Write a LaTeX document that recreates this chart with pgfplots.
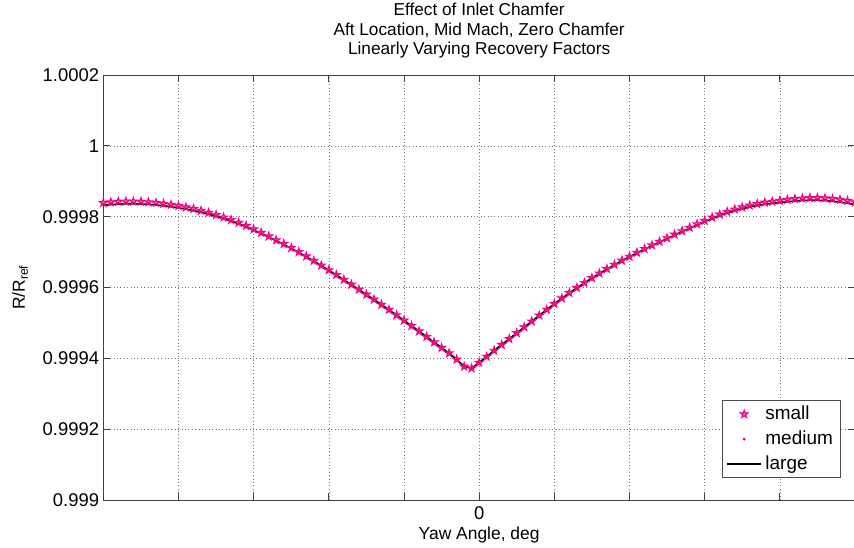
\documentclass[border=0pt]{standalone}
\usepackage{pgfplots}
\pgfplotsset{compat=1.18}
\usepackage{pgfplotstable}
\usepackage{fontspec}
\setmainfont{Liberation Sans}
\pgfdeclareplotmark{pentagram}{%
  \pgfpathmoveto{\pgfpointpolar{90}{\pgfplotmarksize}}%
  \pgfpathlineto{\pgfpointpolar{126}{0.382\pgfplotmarksize}}%
  \pgfpathlineto{\pgfpointpolar{162}{\pgfplotmarksize}}%
  \pgfpathlineto{\pgfpointpolar{198}{0.382\pgfplotmarksize}}%
  \pgfpathlineto{\pgfpointpolar{234}{\pgfplotmarksize}}%
  \pgfpathlineto{\pgfpointpolar{270}{0.382\pgfplotmarksize}}%
  \pgfpathlineto{\pgfpointpolar{306}{\pgfplotmarksize}}%
  \pgfpathlineto{\pgfpointpolar{342}{0.382\pgfplotmarksize}}%
  \pgfpathlineto{\pgfpointpolar{18}{\pgfplotmarksize}}%
  \pgfpathlineto{\pgfpointpolar{54}{0.382\pgfplotmarksize}}%
  \pgfpathclose
  \pgfusepathqfillstroke
}
\pgfplotstableread{
x small medium large
-10.0 0.9998390 0.9998355 0.9998320
-9.8 0.9998409 0.9998375 0.9998340
-9.6 0.9998423 0.9998389 0.9998355
-9.4 0.9998430 0.9998397 0.9998363
-9.2 0.9998431 0.9998398 0.9998365
-9.0 0.9998425 0.9998393 0.9998360
-8.8 0.9998411 0.9998380 0.9998348
-8.6 0.9998391 0.9998361 0.9998330
-8.4 0.9998367 0.9998338 0.9998308
-8.2 0.9998337 0.9998309 0.9998280
-8.0 0.9998305 0.9998278 0.9998250
-7.8 0.9998265 0.9998239 0.9998213
-7.6 0.9998219 0.9998195 0.9998170
-7.4 0.9998168 0.9998145 0.9998122
-7.2 0.9998113 0.9998092 0.9998070
-7.0 0.9998050 0.9998030 0.9998010
-6.8 0.9997982 0.9997964 0.9997945
-6.6 0.9997909 0.9997892 0.9997875
-6.4 0.9997831 0.9997816 0.9997800
-6.2 0.9997743 0.9997729 0.9997715
-6.0 0.9997645 0.9997633 0.9997620
-5.8 0.9997548 0.9997537 0.9997525
-5.6 0.9997446 0.9997436 0.9997425
-5.4 0.9997339 0.9997330 0.9997320
-5.2 0.9997232 0.9997224 0.9997215
-5.0 0.9997120 0.9997113 0.9997105
-4.8 0.9997004 0.9996997 0.9996990
-4.6 0.9996882 0.9996876 0.9996870
-4.4 0.9996756 0.9996750 0.9996745
-4.2 0.9996624 0.9996619 0.9996615
-4.0 0.9996493 0.9996489 0.9996485
-3.8 0.9996357 0.9996354 0.9996350
-3.6 0.9996221 0.9996218 0.9996215
-3.4 0.9996085 0.9996083 0.9996080
-3.2 0.9995944 0.9995942 0.9995940
-3.0 0.9995803 0.9995802 0.9995800
-2.8 0.9995663 0.9995661 0.9995660
-2.6 0.9995517 0.9995516 0.9995515
-2.4 0.9995372 0.9995371 0.9995370
-2.2 0.9995221 0.9995221 0.9995220
-2.0 0.9995070 0.9995070 0.9995070
-1.8 0.9994920 0.9994920 0.9994920
-1.6 0.9994765 0.9994765 0.9994765
-1.4 0.9994610 0.9994610 0.9994610
-1.2 0.9994455 0.9994455 0.9994455
-1.0 0.9994300 0.9994300 0.9994300
-0.8 0.9994145 0.9994145 0.9994145
-0.6 0.9993970 0.9993970 0.9993970
-0.4 0.9993770 0.9993770 0.9993770
-0.2 0.9993720 0.9993720 0.9993720
0.0 0.9993880 0.9993880 0.9993880
0.2 0.9994050 0.9994050 0.9994050
0.4 0.9994220 0.9994220 0.9994220
0.6 0.9994385 0.9994385 0.9994385
0.8 0.9994550 0.9994550 0.9994550
1.0 0.9994715 0.9994715 0.9994715
1.2 0.9994880 0.9994880 0.9994880
1.4 0.9995045 0.9995045 0.9995045
1.6 0.9995210 0.9995210 0.9995210
1.8 0.9995375 0.9995375 0.9995375
2.0 0.9995540 0.9995540 0.9995540
2.2 0.9995696 0.9995696 0.9995695
2.4 0.9995847 0.9995846 0.9995845
2.6 0.9995992 0.9995991 0.9995990
2.8 0.9996133 0.9996131 0.9996130
3.0 0.9996268 0.9996267 0.9996265
3.2 0.9996399 0.9996397 0.9996395
3.4 0.9996525 0.9996523 0.9996520
3.6 0.9996646 0.9996643 0.9996640
3.8 0.9996762 0.9996759 0.9996755
4.0 0.9996873 0.9996869 0.9996865
4.2 0.9996984 0.9996980 0.9996975
4.4 0.9997091 0.9997085 0.9997080
4.6 0.9997192 0.9997186 0.9997180
4.8 0.9997294 0.9997287 0.9997280
5.0 0.9997395 0.9997388 0.9997380
5.2 0.9997497 0.9997489 0.9997480
5.4 0.9997594 0.9997585 0.9997575
5.6 0.9997691 0.9997681 0.9997670
5.8 0.9997788 0.9997777 0.9997765
6.0 0.9997885 0.9997873 0.9997860
6.2 0.9997978 0.9997964 0.9997950
6.4 0.9998061 0.9998046 0.9998030
6.6 0.9998139 0.9998122 0.9998105
6.8 0.9998207 0.9998189 0.9998170
7.0 0.9998265 0.9998245 0.9998225
7.2 0.9998318 0.9998297 0.9998275
7.4 0.9998361 0.9998338 0.9998315
7.6 0.9998399 0.9998375 0.9998350
7.8 0.9998427 0.9998401 0.9998375
8.0 0.9998455 0.9998428 0.9998400
8.2 0.9998477 0.9998449 0.9998420
8.4 0.9998499 0.9998470 0.9998440
8.6 0.9998516 0.9998486 0.9998455
8.8 0.9998528 0.9998497 0.9998465
9.0 0.9998530 0.9998498 0.9998465
9.2 0.9998521 0.9998488 0.9998455
9.4 0.9998502 0.9998469 0.9998435
9.6 0.9998478 0.9998444 0.9998410
9.8 0.9998449 0.9998415 0.9998380
10.0 0.9998410 0.9998375 0.9998340
}\datatable
\begin{document}
\begin{tikzpicture}
\useasboundingbox (0,0) rectangle (854bp,548bp);
\begin{axis}[
  at={(103.3bp,48bp)}, anchor=south west,
  scale only axis, width=751.7bp, height=425bp,
  xmin=-10, xmax=10, ymin=0.999, ymax=1.0002,
  xtick={-10,-8,-6,-4,-2,0,2,4,6,8,10},
  xticklabels={,,,,,0,,,,,},
  ytick={0.999,0.9992,0.9994,0.9996,0.9998,1,1.0002},
  yticklabels={0.999,0.9992,0.9994,0.9996,0.9998,1,1.0002},
  scaled y ticks=false, scaled x ticks=false,
  tick align=inside, major tick length=7bp,
  tick style={black!75, line width=0.8bp},
  axis line style={black!75, line width=0.9bp},
  grid=major,
  major grid style={black!55, line width=0.6bp, dash pattern=on 1bp off 2.4bp},
  ticklabel style={font=\fontsize{18.5}{18.5}\selectfont},
  yticklabel style={anchor=east, inner sep=0pt, xshift=-4bp},
  xticklabel style={anchor=north, inner sep=0pt, yshift=-6.5bp},
  xlabel={Yaw Angle, deg},
  xlabel style={at={(axis description cs:0.5,0)}, anchor=base, yshift=-39bp, inner sep=0pt, font=\fontsize{17.5}{17.5}\selectfont},
  ylabel={R/R\textsubscript{ref}},
  ylabel style={at={(axis description cs:0,0.5)}, anchor=base, yshift=78.3bp, inner sep=0pt, font=\fontsize{17.5}{17.5}\selectfont},
  title={Effect of Inlet Chamfer\\Aft Location, Mid Mach, Zero Chamfer\\Linearly Varying Recovery Factors},
  title style={at={(axis description cs:0.5,1)}, anchor=south, align=center, inner sep=0pt, yshift=10.6bp, font=\fontsize{17.3}{19.6}\selectfont},
  legend image code/.code={\draw[mark repeat=2,mark phase=2,#1] plot coordinates {(0bp,0bp) (17bp,0bp) (34bp,0bp)};},
  legend style={at={(axis description cs:1,0)}, anchor=south east, xshift=-14.3bp, yshift=21.7bp,
    draw=black!70, line width=0.8bp, fill=white, inner xsep=4bp, inner ysep=1.2bp, row sep=0bp,
    font=\fontsize{19}{19}\selectfont,
    nodes={inner sep=3.5bp, text height=14bp, text depth=4bp}},
  legend cell align=left,
]
\addplot[only marks, mark=pentagram, mark size=4bp, mark options={draw=magenta, fill=magenta!45, line width=1.1bp}] table[x=x, y=small] {\datatable};
\addlegendentry{small}
\addplot[only marks, mark=*, mark size=0.9bp, mark options={draw=red, fill=red}] table[x=x, y=medium] {\datatable};
\addlegendentry{medium}
\addplot[black, line width=1.6bp, no marks] table[x=x, y=large] {\datatable};
\addlegendentry{large}
\end{axis}
\end{tikzpicture}
\end{document}
